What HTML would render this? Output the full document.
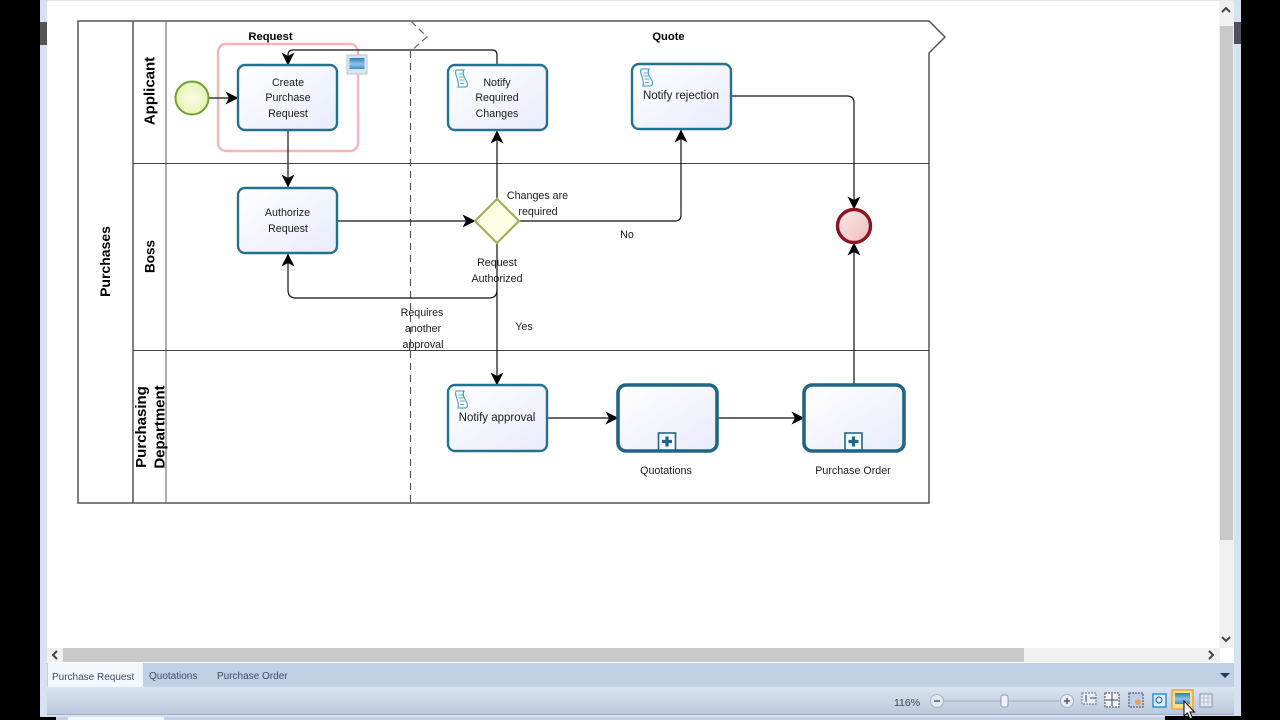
<!DOCTYPE html>
<html><head><meta charset="utf-8"><style>
html,body{margin:0;padding:0;background:#000;width:1280px;height:720px;overflow:hidden}
svg{display:block}
text{font-family:"Liberation Sans",sans-serif;font-size:11.5px;fill:#1a1a1a;text-anchor:middle}
.n{font-size:10.7px}
.b{font-weight:bold;fill:#000}
.l{font-weight:bold;font-size:15px;fill:#000}
.c{fill:none;stroke:#111;stroke-width:1.2}
.t{fill:url(#task);stroke:#24708f;stroke-width:2.4}
.s{fill:url(#task);stroke:#1f6685;stroke-width:3.6}
.tab{font-size:10px;fill:#3d4f68;text-anchor:start}
</style></head><body>
<svg width="1280" height="720" viewBox="0 0 1280 720" xmlns="http://www.w3.org/2000/svg">
<defs>
<linearGradient id="task" x1="0" y1="0" x2="1" y2="1"><stop offset="0" stop-color="#fff"/><stop offset="1" stop-color="#e8ecfa"/></linearGradient>
<radialGradient id="st" cx=".5" cy=".5" r=".6"><stop offset="0" stop-color="#fbfde8"/><stop offset="1" stop-color="#e2f0a8"/></radialGradient>
<linearGradient id="en" x1="0" y1="0" x2="1" y2="1"><stop offset="0" stop-color="#f8eaea"/><stop offset="1" stop-color="#eebcbc"/></linearGradient>
<linearGradient id="bar" x1="0" y1="0" x2="0" y2="1"><stop offset="0" stop-color="#dae4f1"/><stop offset="1" stop-color="#b9c7da"/></linearGradient>
<linearGradient id="pic" x1="0" y1="0" x2="0" y2="1"><stop offset="0" stop-color="#2f7fbd"/><stop offset=".55" stop-color="#8fc3e6"/><stop offset="1" stop-color="#3e8cc7"/></linearGradient>
<marker id="a" viewBox="0 0 13 13" refX="12.500" refY="6.500" markerWidth="13" markerHeight="13" markerUnits="userSpaceOnUse" orient="auto"><path d="M0 0L13 6.500L0 13L3.500 6.500Z" fill="#000"/></marker>
<g id="doc"><path d="M1 1h8c-2 3 0 7 2 10s2 6 0 7H3c1-3 0-6-1-9S0 4 1 1Z" fill="#f4fbff" stroke="#3f93b8" stroke-width="1"/><path d="M3.500 5h5M3.500 8h5M4.500 11h5M5 14.500h4" stroke="#3f93b8" stroke-width=".8"/></g>
<g id="plus"><rect x="-8.500" y="-8.500" width="17" height="17" fill="#f4f7fd" stroke="#1f6685" stroke-width="1.600"/><path d="M-5 0H5M0-5V5" stroke="#1f6685" stroke-width="3.200"/></g>
</defs>

<rect width="1280" height="720" fill="#000"/>
<rect x="40" y="0" width="1201" height="717" fill="#d7e2f1"/>
<rect x="47" y="0" width="1187" height="663" fill="#fff"/>
<rect x="47" y="0" width="1187" height="1" fill="#e6e6e6"/>
<rect x="40" y="22" width="7" height="23" fill="#555"/>
<rect x="1234" y="22" width="7" height="22" fill="#505058"/>

<!-- scrollbars -->
<rect x="1219" y="1" width="15" height="647" fill="#f0f0f0"/>
<rect x="1220" y="26" width="13" height="514" fill="#c8c8c8"/>
<path d="M1222 12l4-4 4 4M1222 637l4 4 4-4" fill="none" stroke="#444" stroke-width="2"/>
<rect x="47" y="648" width="1173" height="14" fill="#f0f0f0"/>
<rect x="63" y="648" width="961" height="14" fill="#c8c8c8"/>
<path d="M57 651l-4 4 4 4M1209 651l4 4-4 4" fill="none" stroke="#444" stroke-width="2"/>

<!-- tab bar -->
<rect x="47" y="663" width="1187" height="24" fill="#bfcfe4"/>
<rect x="48" y="663" width="95" height="25" fill="#f3f6fb"/>
<text class="tab" x="52" y="680">Purchase Request</text>
<text class="tab" x="149" y="679">Quotations</text>
<text class="tab" x="217" y="679">Purchase Order</text>
<path d="M1220 673h10l-5 5Z" fill="#1e3a60"/>

<!-- status bar -->
<rect x="47" y="687" width="1187" height="28" fill="url(#bar)"/>
<rect x="47" y="714" width="1187" height="1" fill="#9fb0c6"/>
<rect x="40" y="717" width="1201" height="3" fill="#000"/>
<rect x="56" y="717" width="1109" height="3" fill="#c5d2e3"/>
<rect x="68" y="717" width="96" height="3" fill="#f3f6fb"/>
<text x="907" y="706" style="font-size:10.500px;fill:#444">116%</text>
<circle cx="937" cy="701" r="6.500" fill="#e3e9f2" stroke="#a5b2c5"/><path d="M934 701h6" stroke="#555" stroke-width="1.500"/>
<path d="M944 701H1060" stroke="#9aa8bb"/>
<rect x="1001" y="695" width="7" height="12" rx="2" fill="#eef2f7" stroke="#8f9db0"/>
<circle cx="1067" cy="701" r="6.500" fill="#e3e9f2" stroke="#a5b2c5"/><path d="M1064 701h6M1067 698v6" stroke="#555" stroke-width="1.500"/>
<rect x="1082" y="693" width="14" height="11" fill="#e8edf5" stroke="#66758a" stroke-dasharray="2 1"/>
<path d="M1086 695v7M1090 698h6" stroke="#445"/>
<rect x="1105" y="693" width="14" height="14" fill="#f3f5f9" stroke="#445" stroke-dasharray="2 1"/>
<path d="M1112 694v12M1106 700h12" stroke="#445"/>
<rect x="1129" y="693" width="14" height="14" fill="#bcd0e6" stroke="#446" stroke-dasharray="2 1"/>
<circle cx="1138" cy="702" r="3" fill="#e8a060"/>
<rect x="1153" y="694" width="13" height="13" fill="#d9ecfa" stroke="#2e8fd5" stroke-width="1.500"/>
<circle cx="1159" cy="700" r="3" fill="none" stroke="#356"/>
<rect x="1172" y="690" width="21" height="19" fill="#fbdc90" stroke="#e9a63a" stroke-width="1.500"/>
<rect x="1175" y="693" width="15" height="11" fill="url(#pic)"/>
<rect x="1200" y="694" width="12" height="13" fill="#e8edf5" stroke="#8492a6"/>
<path d="M1204 694v13M1208 694v13M1200 698h12M1200 702h12" stroke="#aab5c5" stroke-width=".8"/>
<rect x="1165" y="716" width="76" height="4" fill="#000"/>
<path d="M1184 701v15l3.500-3 2.500 6 2.500-1-2.500-6h4.500Z" fill="#fff" stroke="#000"/>

<!-- pool -->
<path d="M78 21H929L945 37 929 53V503H78Z" fill="#fff" stroke="#555" stroke-width="1.500"/>
<path d="M133 21V503" stroke="#555" stroke-width="1.500"/>
<path d="M166 21V503" stroke="#777" stroke-width="1.200"/>
<path d="M133 163.500H929M133 350.500H929" stroke="#444" stroke-width="1"/>
<path d="M410.500 51V503" stroke="#555" stroke-width="1.200" stroke-dasharray="7 5" fill="none"/>
<path d="M411 21L427 37 411 51" stroke="#666" stroke-width="1.200" stroke-dasharray="7 4" fill="none"/>

<text class="l" style="font-size:14px" transform="translate(110,261.500) rotate(-90)">Purchases</text>
<text class="l" transform="translate(154.500,91) rotate(-90)">Applicant</text>
<text class="l" style="font-size:13.500px" transform="translate(154.500,256.500) rotate(-90)">Boss</text>
<text class="l" transform="translate(146,427) rotate(-90)">Purchasing</text>
<text class="l" transform="translate(164.500,427) rotate(-90)">Department</text>
<text class="b" x="270.500" y="40" style="font-size:11.200px">Request</text>
<text class="b" x="668.500" y="40" style="font-size:11.200px">Quote</text>

<!-- selection -->
<rect x="218" y="44" width="140" height="107" rx="8" fill="none" stroke="#f5b4b8" stroke-width="2.400"/>
<rect x="347" y="55" width="20" height="19" fill="#dbe4ee" stroke="#b9c6d4"/>
<rect x="349.500" y="58" width="15" height="11" fill="url(#pic)"/>

<!-- connectors -->
<path class="c" d="M209 98H238" marker-end="url(#a)"/>
<path class="c" d="M288 131V187" marker-end="url(#a)"/>
<path class="c" d="M338 221H475" marker-end="url(#a)"/>
<path class="c" d="M497 65V55Q497 50 492 50H293Q288 50 288 55V65" marker-end="url(#a)"/>
<path class="c" d="M497 199V131" marker-end="url(#a)"/>
<path class="c" d="M519 221H675Q681 221 681 215V130" marker-end="url(#a)"/>
<path class="c" d="M497 243V385" marker-end="url(#a)"/>
<path class="c" d="M497 290Q497 298 489 298H296Q288 298 288 290V254" marker-end="url(#a)"/>
<path class="c" d="M732 96H847Q854 96 854 103V209" marker-end="url(#a)"/>
<path class="c" d="M854 385V243" marker-end="url(#a)"/>
<path class="c" d="M547 418H618" marker-end="url(#a)"/>
<path class="c" d="M717 418H804" marker-end="url(#a)"/>

<!-- events and gateway -->
<circle cx="192" cy="98" r="16.500" fill="url(#st)" stroke="#6f9f30" stroke-width="2"/>
<circle cx="854" cy="226" r="16.500" fill="url(#en)" stroke="#8e1520" stroke-width="3.400"/>
<path d="M497 199L519 221 497 243 475 221Z" fill="#fdfde4" stroke="#a7ab5a" stroke-width="2.200"/>

<!-- tasks -->
<rect class="t" x="238" y="65" width="99" height="65" rx="7"/>
<rect class="t" x="238" y="188" width="99" height="65" rx="7"/>
<rect class="t" x="448" y="65" width="99" height="65" rx="7"/>
<rect class="t" x="632" y="64" width="99" height="65" rx="7"/>
<rect class="t" x="448" y="385" width="99" height="66" rx="7"/>
<rect class="s" x="618" y="385" width="99" height="66" rx="8"/>
<rect class="s" x="804" y="385" width="100" height="66" rx="8"/>
<use href="#plus" x="667" y="441.500"/>
<use href="#plus" x="853.500" y="441.500"/>
<use href="#doc" x="455" y="69"/>
<use href="#doc" x="640" y="68"/>
<use href="#doc" x="455" y="390"/>

<!-- labels -->
<text class="n" x="288" y="86">Create</text><text class="n" x="288" y="101">Purchase</text><text class="n" x="288" y="117">Request</text>
<text class="n" x="287.500" y="216">Authorize</text><text class="n" x="288" y="232">Request</text>
<text class="n" x="497" y="86">Notify</text><text class="n" x="497" y="101">Required</text><text class="n" x="497" y="117">Changes</text>
<text x="681" y="99">Notify rejection</text>
<text x="497" y="421">Notify approval</text>
<text class="n" x="537.500" y="199">Changes are</text><text class="n" x="538" y="215">required</text>
<text class="n" x="627" y="238">No</text>
<text class="n" x="497" y="266">Request</text><text class="n" x="497" y="282">Authorized</text>
<text class="n" x="422" y="316">Requires</text><text class="n" x="423" y="332">another</text><text class="n" x="423" y="348">approval</text>
<text class="n" x="524" y="330">Yes</text>
<text class="n" x="666" y="474">Quotations</text>
<text class="n" x="853" y="474">Purchase Order</text>
</svg>
</body></html>
